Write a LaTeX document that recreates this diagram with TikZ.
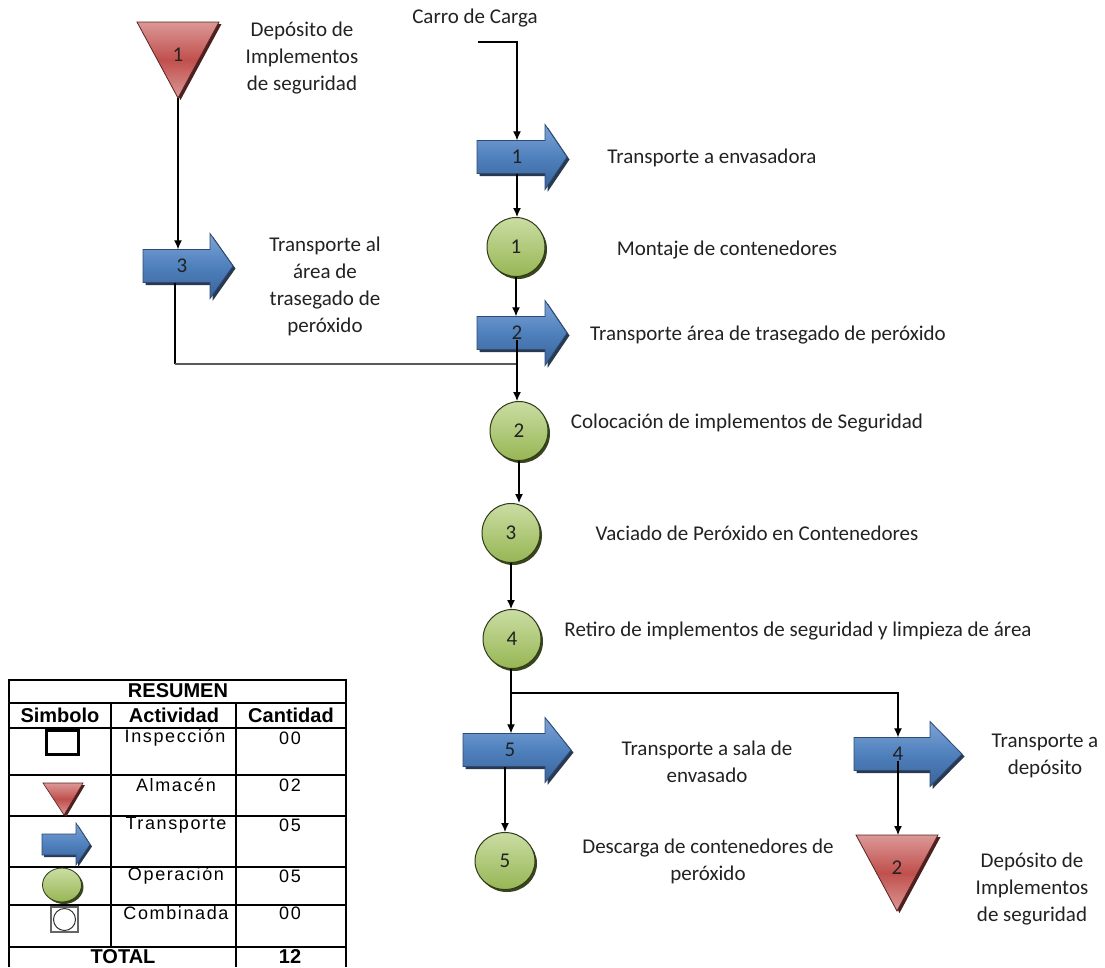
\documentclass[tikz,border=0pt]{standalone}
\usepackage{fontspec}
\setmainfont{Carlito}
\newfontfamily\tabfont[LetterSpace=9]{Liberation Sans}
\newfontfamily\tabbold{Liberation Sans}
\usetikzlibrary{arrows.meta,calc,shapes.geometric,shadows}
\definecolor{bluemid}{HTML}{4F81BD}
\definecolor{bluelight}{HTML}{7FA3D6}
\definecolor{bluedark}{HTML}{3A6299}
\definecolor{blueedge}{HTML}{2C4A74}
\definecolor{shadowb}{HTML}{2A3850}
\definecolor{redmid}{HTML}{C0504D}
\definecolor{redlight}{HTML}{DB9896}
\definecolor{rededge}{HTML}{5A2220}
\definecolor{shadowr}{HTML}{4A2020}
\definecolor{greenmid}{HTML}{97B654}
\definecolor{greenlight}{HTML}{CADDA3}
\definecolor{greenedge}{HTML}{2E3A18}
\definecolor{shadowg}{HTML}{3A4520}
\definecolor{textc}{HTML}{222222}
\newcommand\fl{\fontsize{21}{27}\selectfont}
\newcommand\tfr{\tabfont\fontsize{18}{22}\selectfont}
\newcommand\tfb{\tabbold\bfseries\fontsize{20}{22}\selectfont}
\tikzset{
  txt/.style={font=\fl, text=textc, align=center, inner sep=0pt},
  flow/.style={draw=black, line width=1.2pt, -{Latex[length=9pt,width=8pt]}},
  plain/.style={draw=black, line width=1.2pt},
  gline/.style={draw=black!65, line width=1.8pt},
  opcircle/.style={ellipse, draw=greenedge, line width=1pt, minimum width=58pt, minimum height=59pt,
    top color=greenlight, bottom color=greenmid, font=\fl, text=textc, inner sep=0pt,
    drop shadow={shadow xshift=2pt, shadow yshift=-2.5pt, fill=shadowg, opacity=1}},
  tabline/.style={draw=black, line width=1.4pt},
  ttxt/.style={font=\tfr, text=black, inner sep=0pt},
  tbold/.style={font=\tfb, text=black, inner sep=0pt},
  pics/tarrow/.style n args={4}{code={
    \fill[shadowb, shift={(2.5,2.5)}] (0,-16.5) -- (#2,-16.5) -- (#2,-32.5) -- ({#2+#3},0) -- (#2,32.5) -- (#2,16.5) -- (0,16.5) -- cycle;
    \path[draw=blueedge, line width=0.8pt, top color=bluelight, bottom color=bluedark, middle color=bluemid]
      (0,-16.5) -- (#2,-16.5) -- (#2,-32.5) -- ({#2+#3},0) -- (#2,32.5) -- (#2,16.5) -- (0,16.5) -- cycle;
    \node[inner sep=0pt, minimum width=#2, minimum height=33pt] (-b) at ({#2/2},0) {};
    \node[font=\fl, text=textc, inner sep=0pt] (-l) at ({#2/2+#4},0) {#1};
  }},
  pics/storage/.style={code={
    \fill[shadowr, shift={(2.5,2)}] (-41,-38) -- (41,-38) -- (0,38) -- cycle;
    \path[draw=rededge, line width=0.8pt, top color=redlight, bottom color=redlight, middle color=redmid]
      (-41,-38) -- (41,-38) -- (0,38) -- cycle;
    \node[font=\fl, text=textc, inner sep=0pt] (-l) at (0,-5) {#1};
    \coordinate (-top) at (0,-38);
    \coordinate (-apex) at (0,38);
  }}
}
\begin{document}
\begin{tikzpicture}[x=1pt,y=-1pt]
\useasboundingbox[fill=white] (0,0) rectangle (1105,967);

% ---------- symbols ----------
\pic (t1) at (178,60) {storage=1};
\pic (t2) at (897,873) {storage=2};

\pic (a1) at (477,157) {tarrow={1}{68}{22}{6}};
\pic (a2) at (477,333) {tarrow={2}{68}{22}{6}};
\pic (a3) at (143,266) {tarrow={3}{67}{23}{5.5}};
\pic (a5) at (463,750) {tarrow={5}{82}{26}{6}};
\pic (a4) at (854,754) {tarrow={4}{76}{32}{6}};

\node[opcircle] (c1) at (516,247) {1};
\node[opcircle] (c2) at (519,431) {2};
\node[opcircle] (c3) at (511,533) {3};
\node[opcircle] (c4) at (512,639) {4};
\node[opcircle, minimum width=60pt, minimum height=57pt] (c5) at (505,861) {5};

% ---------- texts ----------
\node[txt] (carro) at (475,18) {Carro de Carga};
\node[txt] (d1) at (302,58) {Depósito de\\Implementos\\de seguridad};
\node[txt] (x1) at (712,158) {Transporte a envasadora};
\node[txt] (x2) at (727,250) {Montaje de contenedores};
\node[txt] (x3) at (325,286) {Transporte al\\área de\\trasegado de\\peróxido};
\node[txt] (x4) at (768,335) {Transporte área de trasegado de peróxido};
\node[txt] (x5) at (747,423) {Colocación de implementos de Seguridad};
\node[txt] (x6) at (757,533) {Vaciado de Peróxido en Contenedores};
\node[txt] (x7) at (798,631) {Retiro de implementos de seguridad y limpieza de área};
\node[txt] (x8) at (707,762) {Transporte a sala de\\envasado};
\node[txt] (x9) at (1045,756) {Transporte a\\depósito};
\node[txt] (x10) at (708,861) {Descarga de contenedores de\\peróxido};
\node[txt] (d2) at (1032,889) {Depósito de\\Implementos\\de seguridad};

% ---------- connectors ----------
\coordinate (cs) at (478,42);
\draw[flow] (cs) -- (a1-l |- cs) -- (a1-l |- a1-b.north);
\draw[flow] (a1-l |- a1-b.south) -- (a1-l |- c1.north);
\draw[flow] (c1.south) -- (c1.south |- a2-b.north);
\draw[flow] (t1-apex) -- (t1-apex |- a3-b.north);
\coordinate (j1) at (175,364);
\draw[plain] (a3-b.south -| j1) -- (j1);
\draw[gline] (j1) -- (j1 -| a2-l);
\draw[flow] (a2-l.south) -- (a2-l |- c2.north);
\draw[flow] (c2.south) -- (c2.south |- c3.north);
\draw[flow] (c3.south) -- (c3.south |- c4.north);
\coordinate (j2) at (511,693);
\draw[plain] (c4.south -| j2) -- (j2);
\draw[flow] (j2) -- (j2 |- a5-b.north);
\draw[flow] (j2) -- (j2 -| a4-l) -- (a4-l |- a4-b.north);
\draw[flow] (c5 |- a5-b.south) -- (c5.north);
\draw[flow] (a4-l.south) -- (a4-l |- t2-top);

% ---------- summary table ----------
\draw[tabline] (9,967) -- (9,680) -- (346,680) -- (346,967);
\draw[tabline] (9,703) -- (346,703);
\draw[tabline] (9,728) -- (346,728);
\draw[tabline] (9,775) -- (346,775);
\draw[tabline] (9,816) -- (346,816);
\draw[tabline] (9,867) -- (346,867);
\draw[tabline] (9,905) -- (346,905);
\draw[tabline] (9,947) -- (346,947);
\draw[tabline] (111,703) -- (111,947);
\draw[tabline] (236,703) -- (236,967);

\node[tbold] at (178,691) {RESUMEN};
\node[tbold] at (60,715) {Simbolo};
\node[tbold] at (174,715) {Actividad};
\node[tbold] at (291,715) {Cantidad};
\node[ttxt] at (175,738) {Inspección};
\node[ttxt] at (290,738) {00};
\node[ttxt] at (176,785) {Almacén};
\node[ttxt] at (290,785) {02};
\node[ttxt] at (176,825) {Transporte};
\node[ttxt] at (290,825) {05};
\node[ttxt] at (176,876) {Operación};
\node[ttxt] at (290,876) {05};
\node[ttxt] at (176,913) {Combinada};
\node[ttxt] at (290,913) {00};
\node[tbold] at (123,957) {TOTAL};
\node[tbold] at (290,957) {12};

% table symbols
\draw[line width=3pt] (46,730) rectangle (78,754);
\fill[shadowr] (45,785) -- (85,785) -- (66,817) -- cycle;
\path[draw=rededge, line width=0.6pt, top color=redlight, bottom color=redlight, middle color=redmid] (43,783) -- (83,783) -- (64,815) -- cycle;
\fill[shadowb, shift={(2,2)}] (42,834) -- (76,834) -- (76,823) -- (90,844.5) -- (76,865) -- (76,855) -- (42,855) -- cycle;
\path[draw=blueedge, line width=0.6pt, top color=bluelight, bottom color=bluedark, middle color=bluemid] (42,834) -- (76,834) -- (76,823) -- (90,844.5) -- (76,865) -- (76,855) -- (42,855) -- cycle;
\fill[shadowg] (64,887) ellipse [x radius=19.5, y radius=17];
\path[draw=greenedge, line width=0.8pt, top color=greenlight, bottom color=greenmid] (62,885) ellipse [x radius=19.5, y radius=17];
\draw[draw=black!60, line width=1.5pt] (51,907) rectangle (78,932);
\draw[fill=white, draw=black!80, line width=1pt] (64.5,919.5) circle [radius=11];
\end{tikzpicture}
\end{document}
